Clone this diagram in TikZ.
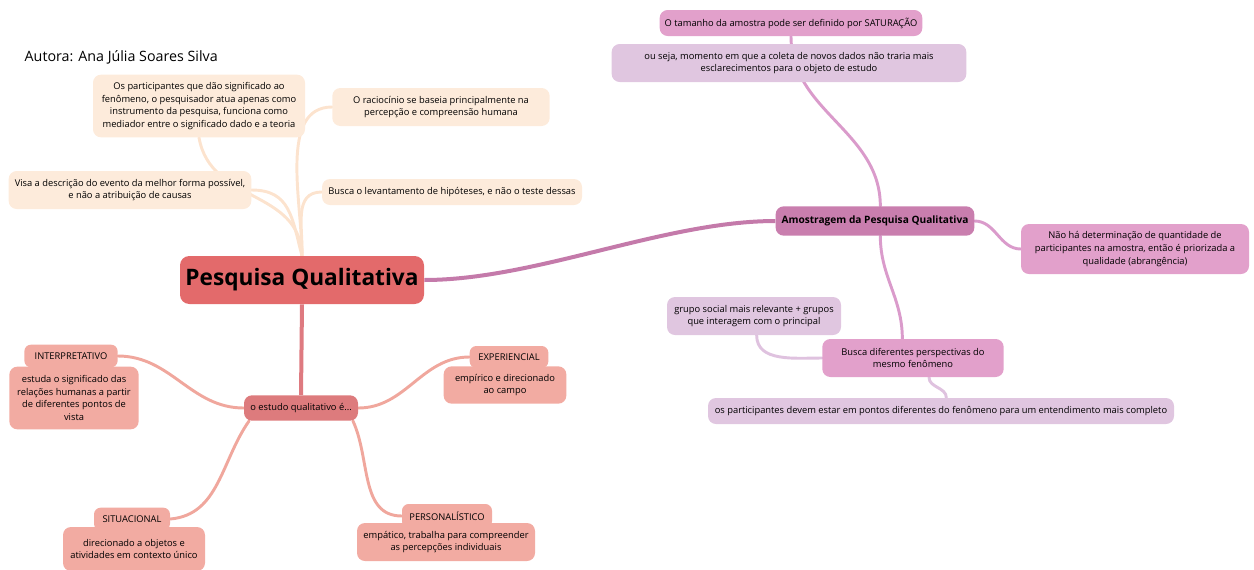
\documentclass[tikz,border=0pt]{standalone}
\usepackage{fontspec}
\setmainfont{Open Sans}
\usetikzlibrary{positioning}

\definecolor{peach}{HTML}{FDEBDB}
\definecolor{peachline}{HTML}{FCE3CE}
\definecolor{rootred}{HTML}{E36A6B}
\definecolor{studyred}{HTML}{DD7B7D}
\definecolor{studyline}{HTML}{DE7A80}
\definecolor{leafred}{HTML}{F2ABA2}
\definecolor{leafline}{HTML}{F0A79D}
\definecolor{sampleplum}{HTML}{C97EAE}
\definecolor{sampleline}{HTML}{C47AAA}
\definecolor{pinkbox}{HTML}{E2A0CB}
\definecolor{pinkline}{HTML}{DA9BCB}
\definecolor{lavender}{HTML}{E0C6E0}
\definecolor{lavline}{HTML}{DFC2DF}

\pgfdeclarelayer{background}
\pgfsetlayers{background,main}

\tikzset{
  box/.style={rectangle, rounded corners=6pt, inner sep=0pt, align=center,
    font=\fontsize{7}{9.6}\selectfont},
  peachbox/.style={box, fill=peach},
  leafhead/.style={box, fill=leafred, rounded corners=5pt},
  leafbody/.style={box, fill=leafred},
  pinkbx/.style={box, fill=pinkbox},
  lavbox/.style={box, fill=lavender},
  branch/.style={line width=2.2pt, line cap=round},
}

\begin{document}
\begin{tikzpicture}[x=0.75pt, y=-0.75pt]
  \useasboundingbox (0,0) rectangle (1254,569);

  \node[anchor=west, font=\fontsize{10.7}{12}\selectfont] (author) at (20,57) {Autora: Ana Júlia Soares Silva};

  % central topic
  \node[box, fill=rootred, rounded corners=7pt, minimum width=183pt, minimum height=36pt,
    font=\fontsize{17}{18}\selectfont\bfseries] (root) at (302,280) {Pesquisa Qualitativa};

  % peach branch
  \node[peachbox, minimum width=159pt, minimum height=47pt] (partic) at (199,106)
    {Os participantes que dão significado ao\\fenômeno, o pesquisador atua apenas como\\instrumento da pesquisa, funciona como\\mediador entre o significado dado e a teoria};
  \node[peachbox, minimum width=163pt, minimum height=28.5pt] (racioc) at (441,107)
    {O raciocínio se baseia principalmente na\\percepção e compreensão humana};
  \node[peachbox, minimum width=182pt, minimum height=28.5pt] (descr) at (130,190)
    {Visa a descrição do evento da melhor forma possível,\\e não a atribuição de causas};
  \node[peachbox, minimum width=195pt, minimum height=19.5pt] (hipot) at (452,192)
    {Busca o levantamento de hipóteses, e não o teste dessas};

  % study branch
  \node[box, fill=studyred, minimum width=85.5pt, minimum height=19pt] (study) at (301,408)
    {o estudo qualitativo é...};

  \node[leafbody, minimum width=97pt, minimum height=47pt] (interpb) at (74,398)
    {estuda o significado das\\relações humanas a partir\\de diferentes pontos de\\vista};
  \node[leafhead, minimum width=70pt, minimum height=17pt] (interp) at (71,356) {INTERPRETATIVO};

  \node[leafbody, minimum width=92pt, minimum height=28pt] (experb) at (505,385)
    {empírico e direcionado\\ao campo};
  \node[leafhead, minimum width=59pt, minimum height=16.5pt] (exper) at (509,357) {EXPERIENCIAL};

  \node[leafbody, minimum width=106.5pt, minimum height=33pt] (situb) at (134,549)
    {direcionado a objetos e\\atividades em contexto único};
  \node[leafhead, minimum width=57pt, minimum height=17pt] (situ) at (132,519) {SITUACIONAL};

  \node[leafbody, minimum width=133.5pt, minimum height=28.5pt] (persb) at (446,542)
    {empático, trabalha para compreender\\as percepções individuais};
  \node[leafhead, minimum width=67.5pt, minimum height=18pt] (pers) at (447,516) {PERSONALÍSTICO};

  % sampling branch
  \node[box, fill=sampleplum, minimum width=149pt, minimum height=22pt,
    font=\fontsize{7.6}{9}\selectfont\bfseries] (sample) at (875,221) {Amostragem da Pesquisa Qualitativa};

  \node[pinkbx, minimum width=197pt, minimum height=19.5pt] (size) at (791,23)
    {O tamanho da amostra pode ser definido por SATURAÇÃO};
  \node[lavbox, minimum width=266pt, minimum height=28.5pt] (satur) at (789,63)
    {ou seja, momento em que a coleta de novos dados não traria mais\\esclarecimentos para o objeto de estudo};
  \node[pinkbx, minimum width=171pt, minimum height=37.5pt] (quality) at (1135,249)
    {Não há determinação de quantidade de\\participantes na amostra, então é priorizada a\\qualidade (abrangência)};
  \node[pinkbx, minimum width=136pt, minimum height=28.5pt] (persp) at (913,358)
    {Busca diferentes perspectivas do\\mesmo fenômeno};
  \node[lavbox, minimum width=130.5pt, minimum height=28.5pt] (group) at (754,316)
    {grupo social mais relevante + grupos\\que interagem com o principal};
  \node[lavbox, minimum width=349.5pt, minimum height=19.5pt] (points) at (941,411)
    {os participantes devem estar em pontos diferentes do fenômeno para um entendimento mais completo};

  \begin{pgfonlayer}{background}
    \begin{scope}[branch, peachline]
      \draw (root.north) to[out=92, in=-80, looseness=1.1] (partic.south);
      \draw (root.north) to[out=90, in=180, looseness=0.9] (racioc.west);
      \draw (root.north) to[out=105, in=0, looseness=1.2] (descr.east);
      \draw (root.north) to[out=88, in=180, looseness=1.1] (hipot.west);
    \end{scope}
    \draw[line width=3pt, studyline] (root.south) -- (study.north);
    \begin{scope}[branch, leafline]
      \draw (study.west) to[out=180, in=0] (interp.east);
      \draw (study.east) to[out=0, in=180] (exper.west);
      \draw ([xshift=4pt]study.south west) to[out=-125, in=5] (situ.east);
      \draw ([xshift=-4pt]study.south east) to[out=-65, in=180] (pers.west);
    \end{scope}
    \draw[line width=3pt, sampleline] (root.east) to[out=0, in=180, looseness=0.8] (sample.west);
    \begin{scope}[branch, pinkline]
      \draw ([xshift=4pt]sample.north) to[out=90, in=-90] (size.south);
      \draw ([xshift=4pt]sample.south) to[out=-90, in=90] ([xshift=-8pt]persp.north);
      \draw (sample.east) to[out=0, in=180] (quality.west);
    \end{scope}
    \begin{scope}[branch, lavline]
      \draw (persp.west) to[out=180, in=-90] ([xshift=2pt]group.south);
      \draw ([xshift=12pt]persp.south) to[out=-90, in=90] ([xshift=4pt]points.north);
    \end{scope}
  \end{pgfonlayer}
\end{tikzpicture}
\end{document}
